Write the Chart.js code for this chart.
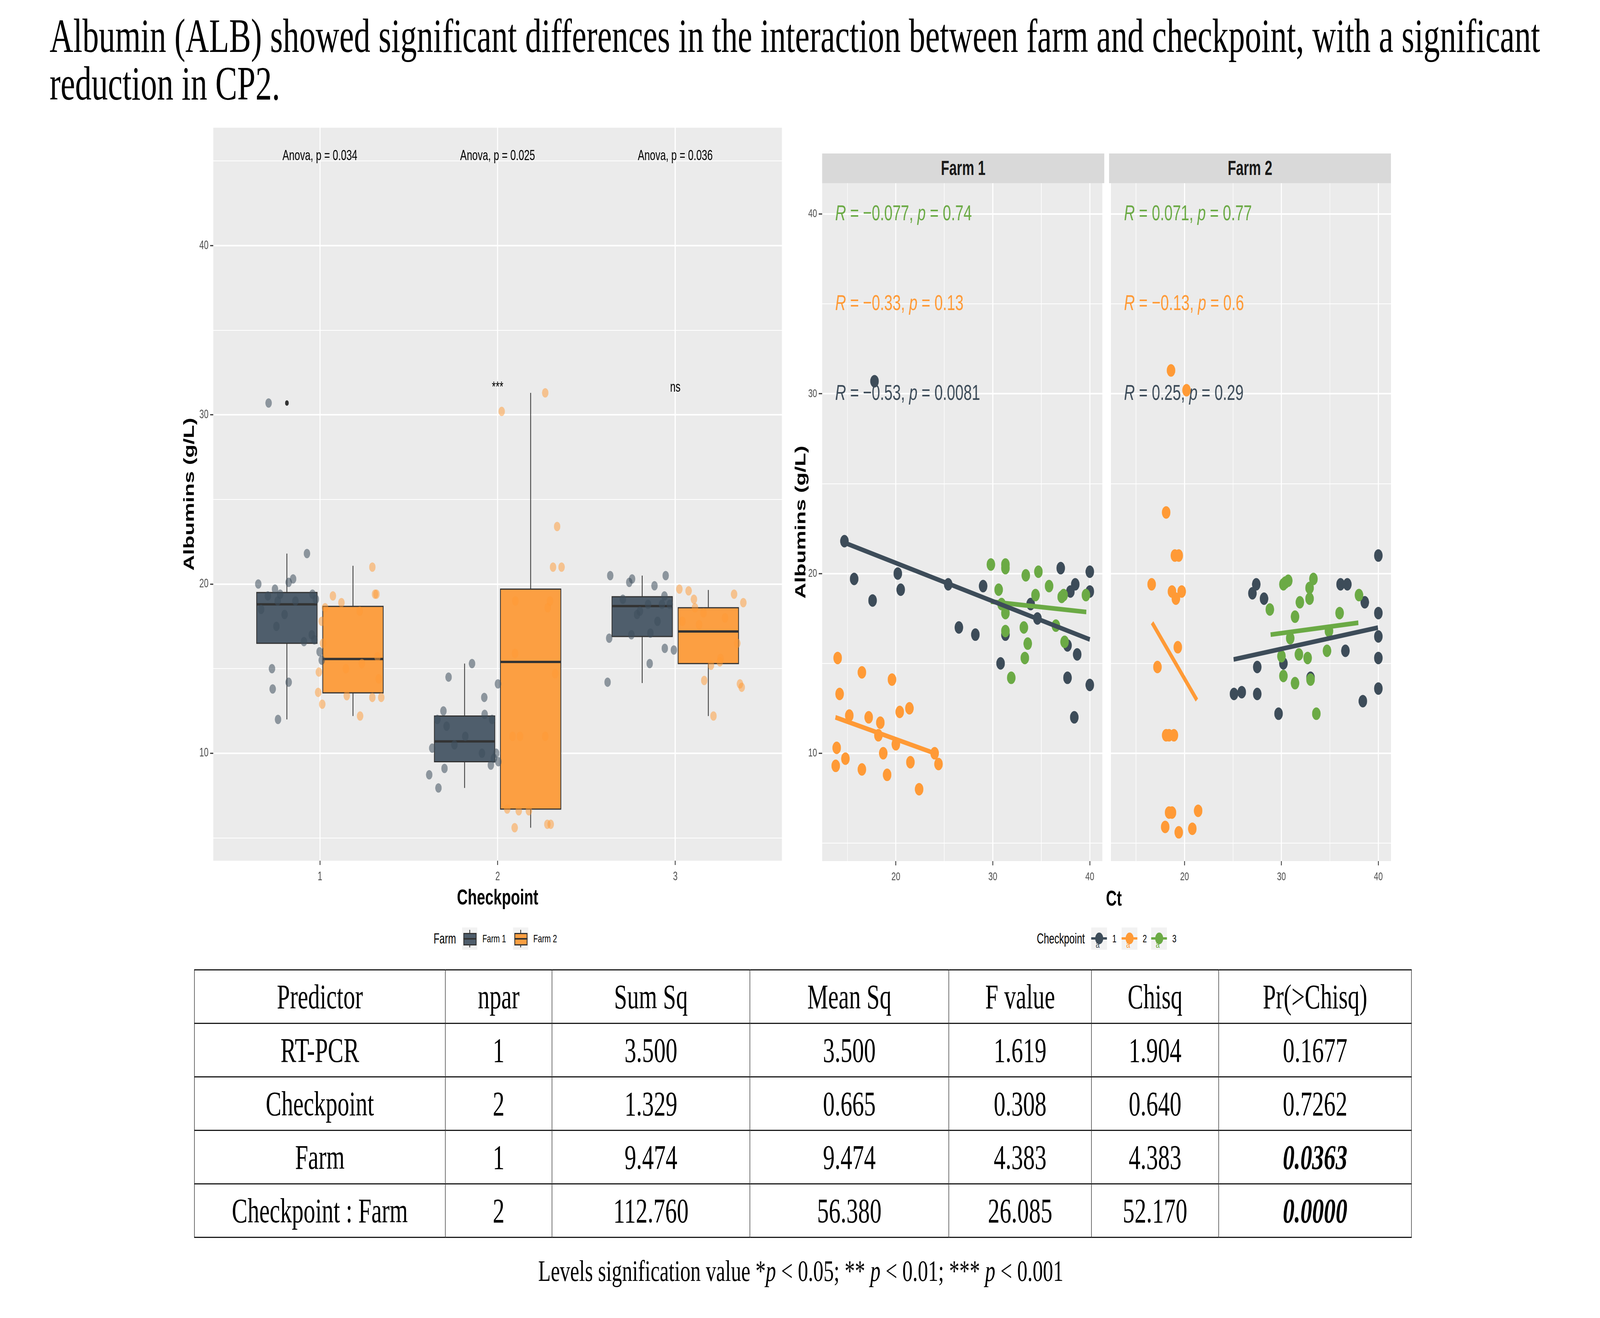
<!DOCTYPE html>
<html>
<head>
<meta charset="utf-8">
<script src="https://cdn.jsdelivr.net/npm/chart.js@4.4.1/dist/chart.umd.min.js"></script>
<style>
  html, body { margin: 0; padding: 0; background: #fff; overflow: hidden; }
  body { position: relative; font-family: "Liberation Sans", Arial, sans-serif; }
  #stage { position: absolute; left: 0; top: 0; width: 6000px; height: 3375px; transform-origin: 0 0; background: #fff; }
  canvas { position: absolute; }
  #title { position: absolute; left: 186px; top: 31px; font: 123px/122px "Liberation Serif", "Times New Roman", serif; white-space: nowrap; color: #000; }
  .strip { position: absolute; top: 393px; height: 76px; background: #D9D9D9; color: #1A1A1A; font-weight: bold; font-size: 51px; line-height: 76px; text-align: center; }
  .lg { position: absolute; top: 2375px; height: 57px; line-height: 57px; white-space: nowrap; color: #000; }
  .key { position: absolute; top: 2375px; width: 57px; height: 57px; background: #F2F2F2; }
  .key div { position: absolute; }
  #ct { position: absolute; left: 4077px; width: 200px; top: 2265px; line-height: 70px; text-align: center; font-weight: bold; font-size: 56px; }
  table { position: absolute; left: 728px; top: 2482px; width: 4564px; height: 688px; border-collapse: collapse; table-layout: fixed;
          font: 88px "Liberation Serif", "Times New Roman", serif; color: #000; }
  td { border-top: 3px solid #1a1a1a; border-bottom: 3px solid #1a1a1a; border-left: 2px solid #333; border-right: 2px solid #333;
       text-align: center; vertical-align: middle; padding: 0; white-space: nowrap; }
  td.sig { font-weight: bold; font-style: italic; }
  #note { position: absolute; left: 0; width: 6006px; top: 3216px; text-align: center; font: 77px/77px "Liberation Serif", "Times New Roman", serif; }
</style>
</head>
<body>
<div id="stage">
<div id="title">Albumin (ALB) showed significant differences in the interaction between farm and checkpoint, with a significant<br>reduction in CP2.</div>

<canvas id="boxChart" width="2350" height="2060" style="left:600px;top:300px;width:2350px;height:2060px"></canvas>

<div class="strip" style="left:3083px;width:1058px">Farm 1</div>
<div class="strip" style="left:4159px;width:1057px">Farm 2</div>
<canvas id="farm1Chart" width="1200" height="1980" style="left:2950px;top:380px;width:1200px;height:1980px"></canvas>
<canvas id="farm2Chart" width="1090" height="1980" style="left:4150px;top:380px;width:1090px;height:1980px"></canvas>
<div id="ct">Ct</div>

<div id="legends"></div>
<table id="anova"></table>
<div id="note">Levels signification value *<i>p</i> &lt; 0.05; ** <i>p</i> &lt; 0.01; *** <i>p</i> &lt; 0.001</div>
</div>

<script>
// stretch the 6000 x 3375 stage over the whole viewport we get
const stage = document.getElementById('stage');
const sx = window.innerWidth / 6000, sy = window.innerHeight / 3375;
stage.style.transform = 'scale(' + sx + ',' + sy + ')';
document.body.style.width = window.innerWidth + 'px';
document.body.style.height = window.innerHeight + 'px';
const DPR = Math.max(1, (window.devicePixelRatio || 1) * Math.max(sx, sy));

// ---- left plot: albumins by checkpoint and farm ----
const checkpoints = [1, 2, 3];
const anovaLabels = ['Anova, p = 0.034', 'Anova, p = 0.025', 'Anova, p = 0.036'];
const sigLabels = ['', '***', 'ns'];
// [lower whisker, Q1, median, Q3, upper whisker]
const boxFarm1 = [[12.0, 16.5, 18.8, 19.5, 21.8], [7.95, 9.5, 10.7, 12.2, 15.3], [14.15, 16.9, 18.7, 19.25, 20.5]];
const boxFarm2 = [[12.2, 13.57, 15.57, 18.68, 21.08], [5.6, 6.7, 15.4, 19.7, 31.3], [12.2, 15.3, 17.2, 18.6, 19.65]];
const outliersFarm1 = [[1, 30.7]];
const jitterFarm1 = [
  [0.653, 20.0], [0.711, 30.7], [0.669, 18.5], [0.707, 19.3], [0.747, 19.7], [0.776, 19.4], [0.762, 19.0], [0.801, 18.2],
  [0.755, 17.5], [0.824, 20.1], [0.849, 20.3], [0.862, 19.0], [0.927, 21.8], [0.910, 16.6], [0.954, 17.0], [0.969, 16.7],
  [0.977, 19.1], [0.958, 19.4], [0.730, 15.0], [0.734, 13.8], [0.824, 14.2], [0.764, 12.0], [0.998, 16.0], [1.010, 15.5],
  [1.615, 8.73], [1.667, 7.95], [1.701, 9.1], [1.632, 10.3], [1.661, 12.0], [1.695, 12.5], [1.724, 14.5], [1.757, 10.5],
  [1.713, 11.6], [1.856, 15.3], [1.912, 10.0], [1.925, 13.3], [1.927, 12.3], [1.969, 12.0], [1.962, 9.3], [1.992, 10.0],
  [2.002, 14.1], [2.004, 9.5], [1.979, 9.7], [1.818, 11.0],
  [2.634, 20.5], [2.619, 14.2], [2.628, 16.8], [2.705, 19.1], [2.741, 20.1], [2.757, 20.3], [2.753, 17.0], [2.785, 18.2],
  [2.801, 18.4], [2.847, 18.8], [2.860, 17.1], [2.856, 15.3], [2.883, 19.9], [2.900, 17.8], [2.925, 18.8], [2.939, 19.3],
  [2.946, 20.5], [2.941, 16.2], [2.969, 18.8], [2.992, 16.1]
];
const jitterFarm2 = [
  [1.073, 19.3], [1.121, 18.9], [1.029, 18.6], [1.010, 17.8], [1.017, 16.5], [0.994, 14.8], [0.990, 13.6], [1.013, 12.9],
  [1.146, 15.0], [1.151, 13.4], [1.226, 12.2], [1.224, 18.4], [1.236, 15.3], [1.295, 21.0], [1.310, 19.4], [1.318, 19.4],
  [1.295, 13.3], [1.345, 13.3], [1.331, 14.4], [1.324, 15.7],
  [2.023, 30.2], [2.268, 31.3], [2.335, 23.4], [2.312, 21.0], [2.360, 21.0], [2.100, 19.0], [2.282, 18.6], [2.295, 19.0],
  [2.098, 15.9], [2.324, 14.7], [2.084, 11.0], [2.126, 11.0], [2.268, 11.0], [2.054, 6.7], [2.119, 6.6], [2.176, 6.6],
  [2.096, 5.6], [2.280, 5.8], [2.299, 5.8],
  [3.023, 19.7], [3.075, 19.6], [3.105, 19.1], [3.111, 18.6], [3.040, 17.8], [3.134, 17.6], [3.159, 18.3], [3.280, 18.0],
  [3.331, 19.4], [3.383, 18.9], [3.349, 16.5], [3.201, 15.2], [3.255, 15.6], [3.251, 15.4], [3.163, 14.3], [3.215, 12.2],
  [3.364, 14.1], [3.374, 13.9]
];
const leftXTicks = [1, 2, 3];
const leftYTicks = [5, 10, 15, 20, 25, 30, 35, 40, 45];

// ---- right plot: albumins vs Ct, faceted by farm ----
const farm1Cp1 = [
  [14.7, 21.8], [17.8, 30.7], [15.7, 19.7], [17.6, 18.5], [20.2, 20.0], [20.5, 19.1], [25.4, 19.4], [26.5, 17.0],
  [28.2, 16.6], [29.0, 19.3], [30.8, 15.0], [31.3, 16.6], [33.9, 18.3], [34.6, 17.5], [37.0, 20.3], [37.7, 16.0],
  [37.7, 14.2], [38.0, 19.0], [38.5, 19.4], [38.7, 15.5], [38.4, 12.0], [40.0, 20.1], [40.0, 19.0], [40.0, 13.8]
];
const farm1Cp2 = [
  [14.0, 15.3], [14.2, 13.3], [13.9, 10.3], [13.8, 9.3], [14.8, 9.7], [15.2, 12.1], [16.5, 14.5], [16.5, 9.1],
  [17.2, 12.0], [18.4, 11.7], [18.2, 11.0], [18.7, 10.0], [19.1, 8.8], [19.6, 14.1], [20.0, 10.5], [20.4, 12.3],
  [21.4, 12.5], [21.5, 9.5], [22.4, 8.0], [24.0, 10.0], [24.4, 9.4]
];
const farm1Cp3 = [
  [29.8, 20.5], [31.3, 20.5], [31.3, 20.3], [30.6, 19.1], [30.9, 18.3], [31.3, 17.8], [31.3, 16.8], [31.9, 14.2],
  [33.4, 19.9], [33.2, 17.0], [33.6, 16.1], [33.3, 15.3], [34.4, 18.8], [34.7, 20.1], [35.8, 19.3], [36.5, 17.1],
  [37.1, 18.7], [37.3, 18.8], [37.4, 16.2], [39.6, 18.8]
];
const farm2Cp1 = [
  [25.1, 13.3], [25.9, 13.4], [27.0, 18.9], [27.4, 19.4], [27.5, 14.8], [27.5, 13.3], [28.2, 18.6], [29.7, 12.2],
  [30.2, 15.0], [33.0, 14.2], [36.1, 19.4], [36.8, 19.4], [36.6, 15.7], [38.4, 12.9], [38.6, 18.4], [40.0, 21.0],
  [40.0, 17.8], [40.0, 16.5], [40.0, 15.3], [40.0, 13.6]
];
const farm2Cp2 = [
  [16.6, 19.4], [17.2, 14.8], [18.1, 23.4], [18.6, 31.3], [20.2, 30.2], [19.0, 21.0], [19.4, 21.0], [18.7, 19.0],
  [19.1, 18.6], [19.7, 19.0], [19.3, 15.9], [18.1, 11.0], [18.4, 11.0], [18.9, 11.0], [18.4, 6.7], [18.7, 6.7],
  [18.0, 5.9], [19.4, 5.6], [20.8, 5.8], [21.4, 6.8]
];
const farm2Cp3 = [
  [28.8, 18.0], [30.2, 19.4], [30.4, 19.5], [30.7, 19.6], [30.0, 15.4], [30.2, 14.3], [30.9, 16.4], [31.4, 17.6],
  [31.4, 13.9], [31.8, 15.5], [31.9, 18.4], [32.7, 15.3], [32.9, 18.6], [32.9, 19.2], [33.3, 19.7], [33.0, 14.1],
  [33.6, 12.2], [34.7, 15.7], [34.9, 16.8], [36.0, 17.8], [38.0, 18.8]
];
// fitted lines: [[x0, y0], [x1, y1]] per checkpoint
const fitFarm1 = [[[14.68, 21.72], [40.0, 16.33]], [[13.77, 12.0], [24.4, 9.92]], [[29.8, 18.44], [39.64, 17.86]]];
const fitFarm2 = [[[25.06, 15.22], [39.96, 16.99]], [[16.65, 17.26], [21.27, 12.96]], [[28.88, 16.6], [37.93, 17.26]]];
// [R, p] per checkpoint
const corFarm1 = [['\u22120.53', '0.0081'], ['\u22120.33', '0.13'], ['\u22120.077', '0.74']];
const corFarm2 = [['0.25', '0.29'], ['\u22120.13', '0.6'], ['0.071', '0.77']];
const corLabelY = [30, 35, 40];
const corLabelX = 13.75;
const rightXTicks = [15, 20, 25, 30, 35, 40];
const rightYTicks = [5, 10, 15, 20, 25, 30, 35, 40];

// ---- ANOVA table ----
const tableHeader = ['Predictor', 'npar', 'Sum Sq', 'Mean Sq', 'F value', 'Chisq', 'Pr(>Chisq)'];
const predictors = ['RT-PCR', 'Checkpoint', 'Farm', 'Checkpoint : Farm'];
const npar = ['1', '2', '1', '2'];
const sumSq = ['3.500', '1.329', '9.474', '112.760'];
const meanSq = ['3.500', '0.665', '9.474', '56.380'];
const fValue = ['1.619', '0.308', '4.383', '26.085'];
const chisq = ['1.904', '0.640', '4.383', '52.170'];
const prChisq = ['0.1677', '0.7262', '0.0363', '0.0000'];

const farmColors = ['#4F5E6C', '#FC9F42'];
const farmPoints = ['rgba(62,78,92,0.55)', 'rgba(255,153,51,0.5)'];
const cpColors = ['#3D4C59', '#FF9A36', '#6BAA45'];
const SANS = '"Liberation Sans", Arial, sans-serif';

Chart.defaults.font.family = SANS;

const panelBg = {
  id: 'panelBg',
  beforeDraw(chart) {
    const { ctx, chartArea: a } = chart;
    ctx.save();
    ctx.fillStyle = '#EBEBEB';
    ctx.fillRect(a.left, a.top, a.right - a.left, a.bottom - a.top);
    ctx.restore();
  }
};

function seg(ctx, x0, y0, x1, y1) {
  ctx.beginPath(); ctx.moveTo(x0, y0); ctx.lineTo(x1, y1); ctx.stroke();
}

const boxes = {
  id: 'boxes',
  beforeDatasetsDraw(chart) {
    const { ctx, scales: { x, y } } = chart;
    const dodge = 0.186, half = 0.17;
    ctx.save();
    ctx.strokeStyle = '#333333';
    [boxFarm1, boxFarm2].forEach((stats, f) => {
      const off = f === 0 ? -dodge : dodge;
      stats.forEach((s, i) => {
        const cx = checkpoints[i] + off;
        const l = x.getPixelForValue(cx - half), r = x.getPixelForValue(cx + half), c = x.getPixelForValue(cx);
        const [lo, q1, med, q3, hi] = s.map(v => y.getPixelForValue(v));
        ctx.lineWidth = 3;
        seg(ctx, c, hi, c, q3);
        seg(ctx, c, q1, c, lo);
        ctx.fillStyle = farmColors[f];
        ctx.fillRect(l, q3, r - l, q1 - q3);
        ctx.strokeRect(l, q3, r - l, q1 - q3);
        ctx.lineWidth = 6;
        seg(ctx, l, med, r, med);
      });
    });
    ctx.fillStyle = '#333333';
    outliersFarm1.forEach(([cp, v]) => {
      ctx.beginPath();
      ctx.arc(x.getPixelForValue(cp - dodge), y.getPixelForValue(v), 7, 0, Math.PI * 2);
      ctx.fill();
    });
    ctx.restore();
  }
};

const boxLabels = {
  id: 'boxLabels',
  afterDatasetsDraw(chart) {
    const { ctx, scales: { x, y } } = chart;
    ctx.save();
    ctx.fillStyle = '#000';
    ctx.textAlign = 'center';
    ctx.textBaseline = 'middle';
    ctx.font = '37px ' + SANS;
    checkpoints.forEach((cp, i) => {
      ctx.fillText(anovaLabels[i], x.getPixelForValue(cp), y.getPixelForValue(45.3));
      if (sigLabels[i]) ctx.fillText(sigLabels[i], x.getPixelForValue(cp), y.getPixelForValue(31.6));
    });
    ctx.restore();
  }
};

function gridWidth(c) { return c.tick && c.tick.value % 10 === 0 ? 4 : 2; }
function tickCol(c) { return c.tick && c.tick.value % 10 === 0 ? '#333333' : 'rgba(0,0,0,0)'; }
function tenLabel(v) { return v % 10 === 0 ? String(v) : ''; }

new Chart(document.getElementById('boxChart'), {
  type: 'scatter',
  data: {
    datasets: [
      { data: jitterFarm2.map(([x, y]) => ({ x, y })), backgroundColor: farmPoints[1], pointRadius: 12, borderWidth: 0 },
      { data: jitterFarm1.map(([x, y]) => ({ x, y })), backgroundColor: farmPoints[0], pointRadius: 12, borderWidth: 0 }
    ]
  },
  options: {
    responsive: false, animation: false, devicePixelRatio: DPR,
    layout: { padding: { left: 0, top: 27, right: 18, bottom: 0 } },
    plugins: { legend: { display: false }, tooltip: { enabled: false } },
    scales: {
      x: {
        type: 'linear', min: 0.4, max: 3.6,
        afterBuildTicks: a => { a.ticks = leftXTicks.map(v => ({ value: v })); },
        afterFit: s => { s.height = 156; },
        ticks: { font: { size: 31 }, color: '#4D4D4D', padding: 12, autoSkip: false, maxRotation: 0, callback: v => String(v) },
        grid: { color: '#FFFFFF', lineWidth: 4, tickLength: 11, tickColor: '#333333', tickWidth: 3 },
        border: { display: false },
        title: { display: true, text: 'Checkpoint', color: '#000', font: { size: 56, weight: 'bold' }, padding: { top: 0, bottom: 26 } }
      },
      y: {
        type: 'linear', min: 3.65, max: 46.97,
        afterBuildTicks: a => { a.ticks = leftYTicks.map(v => ({ value: v })); },
        afterFit: s => { s.width = 200; },
        ticks: { font: { size: 31 }, color: '#4D4D4D', padding: 6, autoSkip: false, callback: tenLabel },
        grid: { color: '#FFFFFF', lineWidth: gridWidth, tickLength: 12, tickColor: tickCol, tickWidth: 3 },
        border: { display: false },
        title: { display: true, text: 'Albumins (g/L)', color: '#000', font: { size: 56, weight: 'bold' }, padding: { top: 78, bottom: 0 } }
      }
    }
  },
  plugins: [panelBg, boxes, boxLabels]
});

function corPlugin(cors) {
  return {
    id: 'corLabels',
    afterDatasetsDraw(chart) {
      const { ctx, scales: { x, y } } = chart;
      ctx.save();
      ctx.textAlign = 'left';
      ctx.textBaseline = 'middle';
      cors.forEach(([r, p], k) => {
        let px = x.getPixelForValue(corLabelX);
        const py = y.getPixelForValue(corLabelY[k]);
        ctx.fillStyle = cpColors[k];
        [['R', true], [' = ' + r + ', ', false], ['p', true], [' = ' + p, false]].forEach(([t, it]) => {
          ctx.font = (it ? 'italic ' : '') + '56px ' + SANS;
          ctx.fillText(t, px, py);
          px += ctx.measureText(t).width;
        });
      });
      ctx.restore();
    }
  };
}

function facet(id, groups, fits, cors, withAxis, pad) {
  const datasets = [];
  fits.forEach((f, k) => datasets.push({
    data: f.map(([x, y]) => ({ x, y })), showLine: true, borderColor: cpColors[k], borderWidth: 12,
    pointRadius: 0, order: 0
  }));
  groups.forEach((g, k) => datasets.push({
    data: g.map(([x, y]) => ({ x, y })), backgroundColor: cpColors[k], pointRadius: 16, borderWidth: 0, order: 3 - k
  }));
  new Chart(document.getElementById(id), {
    type: 'scatter',
    data: { datasets },
    options: {
      responsive: false, animation: false, devicePixelRatio: DPR,
      layout: { padding: pad },
      plugins: { legend: { display: false }, tooltip: { enabled: false } },
      scales: {
        x: {
          type: 'linear', min: 12.4, max: 41.3,
          afterBuildTicks: a => { a.ticks = rightXTicks.map(v => ({ value: v })); },
          afterFit: s => { s.height = 155; },
          ticks: { font: { size: 30 }, color: '#4D4D4D', padding: 12, autoSkip: false, maxRotation: 0, callback: tenLabel },
          grid: { color: '#FFFFFF', lineWidth: gridWidth, tickLength: 11, tickColor: tickCol, tickWidth: 3 },
          border: { display: false }
        },
        y: {
          type: 'linear', min: 4.0, max: 41.72,
          afterBuildTicks: a => { a.ticks = rightYTicks.map(v => ({ value: v })); },
          afterFit: s => { s.width = withAxis ? 133 : 0; },
          ticks: { display: withAxis, font: { size: 30 }, color: '#4D4D4D', padding: 6, autoSkip: false, callback: tenLabel },
          grid: { color: '#FFFFFF', lineWidth: gridWidth, drawTicks: withAxis, tickLength: 13, tickColor: tickCol, tickWidth: 3 },
          border: { display: false },
          title: { display: withAxis, text: 'Albumins (g/L)', color: '#000', font: { size: 56, weight: 'bold' }, padding: { top: 21, bottom: 0 } }
        }
      }
    },
    plugins: [panelBg, corPlugin(cors)]
  });
}

facet('farm1Chart', [farm1Cp1, farm1Cp2, farm1Cp3], fitFarm1, corFarm1, true, { left: 0, top: 89, right: 9, bottom: 0 });
facet('farm2Chart', [farm2Cp1, farm2Cp2, farm2Cp3], fitFarm2, corFarm2, false, { left: 9, top: 89, right: 24, bottom: 0 });

// ---- legends (HTML) ----
const farmNames = ['Farm 1', 'Farm 2'];
const cpNames = ['1', '2', '3'];
const lg = document.getElementById('legends');
let html = '<div class="lg" style="left:1626px;font-size:36px">Farm</div>';
[1733, 1924].forEach((left, f) => {
  html += '<div class="key" style="left:' + left + 'px">' +
    '<div style="left:27px;top:6px;width:3px;height:45px;background:#333"></div>' +
    '<div style="left:5px;top:14px;width:43px;height:26px;border:3px solid #333;background:' + farmColors[f] + '"></div>' +
    '<div style="left:5px;top:27px;width:49px;height:4px;background:#333"></div></div>' +
    '<div class="lg" style="left:' + (left + 76) + 'px;font-size:28px">' + farmNames[f] + '</div>';
});
html += '<div class="lg" style="left:3888px;font-size:36px">Checkpoint</div>';
[4092, 4206, 4317].forEach((left, k) => {
  const c = cpColors[k];
  html += '<div class="key" style="left:' + left + 'px;width:59px">' +
    '<div style="left:0;top:25px;width:59px;height:6px;background:' + c + '"></div>' +
    '<div style="left:15px;top:13px;width:30px;height:30px;border-radius:50%;background:' + c + '"></div>' +
    '<div style="left:17px;top:30px;font-size:26px;line-height:26px;color:' + c + '">a</div></div>' +
    '<div class="lg" style="left:' + (left + 79) + 'px;font-size:28px">' + cpNames[k] + '</div>';
});
lg.innerHTML = html;

// ---- table ----
const colWidths = [941, 400, 742, 746, 535, 477, 723];
const table = document.getElementById('anova');
let t = '<colgroup>' + colWidths.map(w => '<col style="width:' + w + 'px">').join('') + '</colgroup>';
t += '<tr>' + tableHeader.map(h => '<td>' + h.replace('>', '&gt;') + '</td>').join('') + '</tr>';
predictors.forEach((p, i) => {
  const sig = parseFloat(prChisq[i]) < 0.05 ? ' class="sig"' : '';
  t += '<tr><td>' + p + '</td><td>' + npar[i] + '</td><td>' + sumSq[i] + '</td><td>' + meanSq[i] + '</td><td>' +
       fValue[i] + '</td><td>' + chisq[i] + '</td><td' + sig + '>' + prChisq[i] + '</td></tr>';
});
table.innerHTML = t;
</script>
</body>
</html>
